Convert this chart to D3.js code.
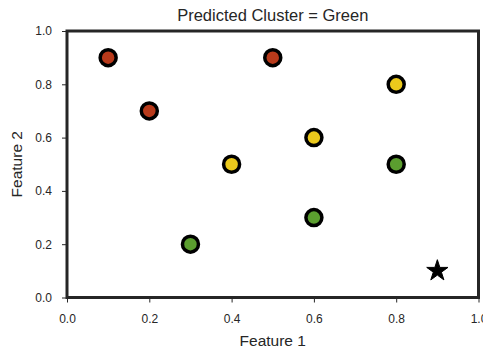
<!DOCTYPE html>
<html>
<head>
<meta charset="utf-8">
<script src="https://cdn.jsdelivr.net/npm/d3@7"></script>
<style>
  body { margin: 0; background: #fff; }
  svg { display: block; font-family: "Liberation Sans", Arial, sans-serif; }
</style>
</head>
<body>
<script>
// points, grouped by colour
const redX = [0.1, 0.2, 0.5]
const redY = [0.9, 0.7, 0.9]
const yellowX = [0.8, 0.6, 0.4]
const yellowY = [0.8, 0.6, 0.5]
const greenX = [0.8, 0.6, 0.3]
const greenY = [0.5, 0.3, 0.2]
const starX = [0.9]
const starY = [0.1]
const ticks = [0, 0.2, 0.4, 0.6, 0.8, 1.0]

const width = 483
const height = 349
const margin = { top: 31, right: 5, bottom: 52, left: 67 }
const ink = '#262626'

const svg = d3.select('body').append('svg')
  .attr('width', width)
  .attr('height', height)

const x = d3.scaleLinear().domain([0, 1]).range([margin.left, width - margin.right + 0.5])
const y = d3.scaleLinear().domain([0, 1]).range([height - margin.bottom + 0.5, margin.top])

const xAxis = svg.append('g')
  .attr('transform', `translate(0,${y(0)})`)
  .call(d3.axisBottom(x).tickValues(ticks).tickFormat(d3.format('.1f')).tickSizeOuter(0).tickSize(5).tickPadding(12))
const yAxis = svg.append('g')
  .attr('transform', `translate(${x(0)},0)`)
  .call(d3.axisLeft(y).tickValues(ticks).tickFormat(d3.format('.1f')).tickSizeOuter(0).tickSize(5).tickPadding(10))

;[xAxis, yAxis].forEach(a => {
  a.select('.domain').remove()
  a.selectAll('.tick line').attr('stroke', ink).attr('stroke-width', 1)
  a.selectAll('.tick text').attr('fill', ink).style('font-size', '12px')
})

// frame
svg.append('rect')
  .attr('x', x(0))
  .attr('y', y(1))
  .attr('width', x(1) - x(0))
  .attr('height', y(0) - y(1))
  .attr('fill', 'none')
  .attr('stroke', ink)
  .attr('stroke-width', 3)

const drawGroup = (xs, ys, color) => {
  svg.append('g').selectAll('circle')
    .data(xs.map((d, i) => [d, ys[i]]))
    .join('circle')
    .attr('cx', d => x(d[0]))
    .attr('cy', d => y(d[1]))
    .attr('r', 8)
    .attr('fill', color)
    .attr('stroke', '#000')
    .attr('stroke-width', 3.5)
}

drawGroup(redX, redY, '#b83a1b')
drawGroup(yellowX, yellowY, '#ebc91c')
drawGroup(greenX, greenY, '#5b9e2f')

svg.append('g').selectAll('path')
  .data(starX.map((d, i) => [d, starY[i]]))
  .join('path')
  .attr('transform', d => `translate(${x(d[0])},${y(d[1])})`)
  .attr('d', d3.symbol(d3.symbolStar, 140))
  .attr('fill', '#000')
  .attr('stroke', '#000')
  .attr('stroke-width', 1)
  .attr('stroke-linejoin', 'round')

svg.append('text')
  .attr('x', (x(0) + x(1)) / 2)
  .attr('y', 21)
  .attr('text-anchor', 'middle')
  .attr('fill', ink)
  .style('font-size', '16.5px')
  .text('Predicted Cluster = Green')

svg.append('text')
  .attr('x', (x(0) + x(1)) / 2)
  .attr('y', 346)
  .attr('text-anchor', 'middle')
  .attr('fill', ink)
  .style('font-size', '15.5px')
  .text('Feature 1')

svg.append('text')
  .attr('transform', `translate(22,${(y(0) + y(1)) / 2}) rotate(-90)`)
  .attr('text-anchor', 'middle')
  .attr('fill', ink)
  .style('font-size', '15.5px')
  .text('Feature 2')
</script>
</body>
</html>
